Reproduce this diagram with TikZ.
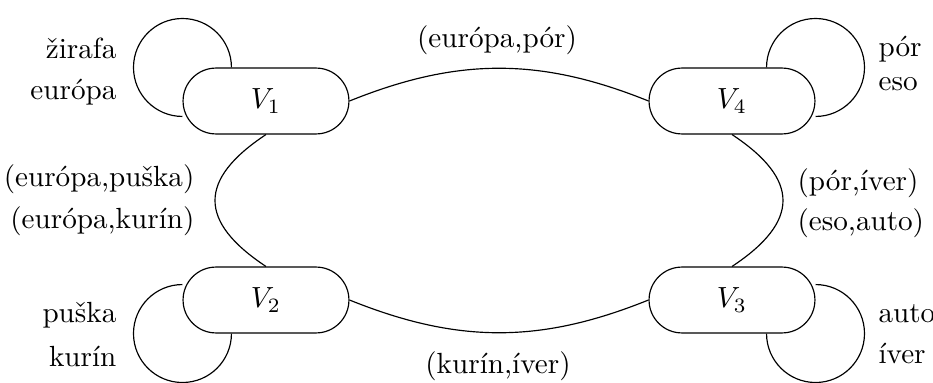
\documentclass[tikz,border=0pt]{standalone}
\usepackage{fontspec}
\usetikzlibrary{calc}
\begin{document}
\begin{tikzpicture}[x=0.343pt,y=-0.343pt,
  state/.style={draw,rectangle,rounded corners=11.3pt,
    minimum width=56.9pt,minimum height=22.6pt,inner sep=0pt},
  lbl/.style={inner sep=0pt},
  loopr/.style={radius=16.8pt}]
\useasboundingbox (0,0) rectangle (933,383);

% states
\node[state] (V1) at (266,101) {$V_1$};
\node[state] (V4) at (732,101) {$V_4$};
\node[state] (V2) at (266,300) {$V_2$};
\node[state] (V3) at (732,300) {$V_3$};

% self loops, centred on the outer corners of each state
\draw ($(V1.north west)+(16.8pt,0)$) arc[start angle=0,end angle=270,loopr];
\draw ($(V4.north east)+(-16.8pt,0)$) arc[start angle=180,end angle=-90,loopr];
\draw ($(V2.south west)+(0,16.8pt)$) arc[start angle=90,end angle=360,loopr];
\draw ($(V3.south east)+(0,16.8pt)$) arc[start angle=90,end angle=-180,loopr];

% transitions between states
\draw (V1.east) to[bend left=22] (V4.west);
\draw (V2.east) to[bend right=22] (V3.west);
\draw (V1.south) .. controls +(-68,45) and +(-68,-45) .. (V2.north);
\draw (V4.south) .. controls +(68,45) and +(68,-45) .. (V3.north);

% loop labels
\node[lbl,anchor=base east] (l1a) at (117,58) {žirafa};
\node[lbl,anchor=base east] (l1b) at (117,99) {európa};
\node[lbl,anchor=base west] (l4a) at (878,56) {pór};
\node[lbl,anchor=base west] (l4b) at (878,90) {eso};
\node[lbl,anchor=base east] (l2a) at (117,322) {puška};
\node[lbl,anchor=base east] (l2b) at (117,366) {kurín};
\node[lbl,anchor=base west] (l3a) at (878,322) {auto};
\node[lbl,anchor=base west] (l3b) at (878,363) {íver};

% transition labels
\node[lbl,anchor=base] (t14) at (497,47) {(európa,pór)};
\node[lbl,anchor=base] (t23) at (498,373) {(kurín,íver)};
\node[lbl,anchor=base east] (t12a) at (195,186) {(európa,puška)};
\node[lbl,anchor=base east] (t12b) at (195,228) {(európa,kurín)};
\node[lbl,anchor=base west] (t43a) at (797,190) {(pór,íver)};
\node[lbl,anchor=base west] (t43b) at (797,230) {(eso,auto)};
\end{tikzpicture}
\end{document}
